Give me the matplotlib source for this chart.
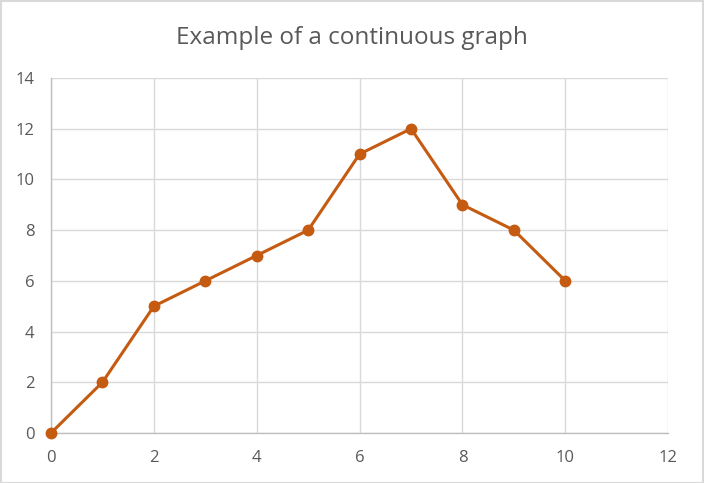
import matplotlib
matplotlib.use('Agg')
import matplotlib.pyplot as plt
from matplotlib.patches import Rectangle

x_vals = [0, 1, 2, 3, 4, 5, 6, 7, 8, 9, 10]
y_vals = [0, 2, 5, 6, 7, 8, 11, 12, 9, 8, 6]
x_ticks = [0, 2, 4, 6, 8, 10, 12]
y_ticks = [0, 2, 4, 6, 8, 10, 12, 14]
title = 'Example of a continuous graph'

plt.rcParams['font.family'] = ['Open Sans', 'DejaVu Sans']

fig = plt.figure(figsize=(7.04, 4.83), dpi=100)
ax = fig.add_axes([0.0724, 0.1035, 0.8768, 0.735])

ax.plot(x_vals, y_vals, color='#C55A11', linewidth=2.2, marker='o',
        markersize=7.5, clip_on=False, zorder=3)

ax.set_xlim(0, 12)
ax.set_ylim(0, 14)
ax.set_xticks(x_ticks)
ax.set_yticks(y_ticks)
ax.grid(True, color='#D9D9D9', linewidth=1.0)
ax.set_axisbelow(True)

for side in ['top', 'right']:
    ax.spines[side].set_visible(False)
for side in ['left', 'bottom']:
    ax.spines[side].set_color('#BFBFBF')
    ax.spines[side].set_linewidth(1.0)

ax.tick_params(length=0, labelsize=12, labelcolor='#595959')
ax.tick_params(axis='y', pad=12)
ax.tick_params(axis='x', pad=12)

fig.text(0.5, 0.921, title, ha='center', va='center', fontsize=17.5, color='#595959')

# light border round the whole chart
fig.patches.append(Rectangle((0.001, 0.001), 0.998, 0.997, transform=fig.transFigure,
                             fill=False, edgecolor='#D9D9D9', linewidth=1.5))

fig.savefig('out.png', dpi=100)
